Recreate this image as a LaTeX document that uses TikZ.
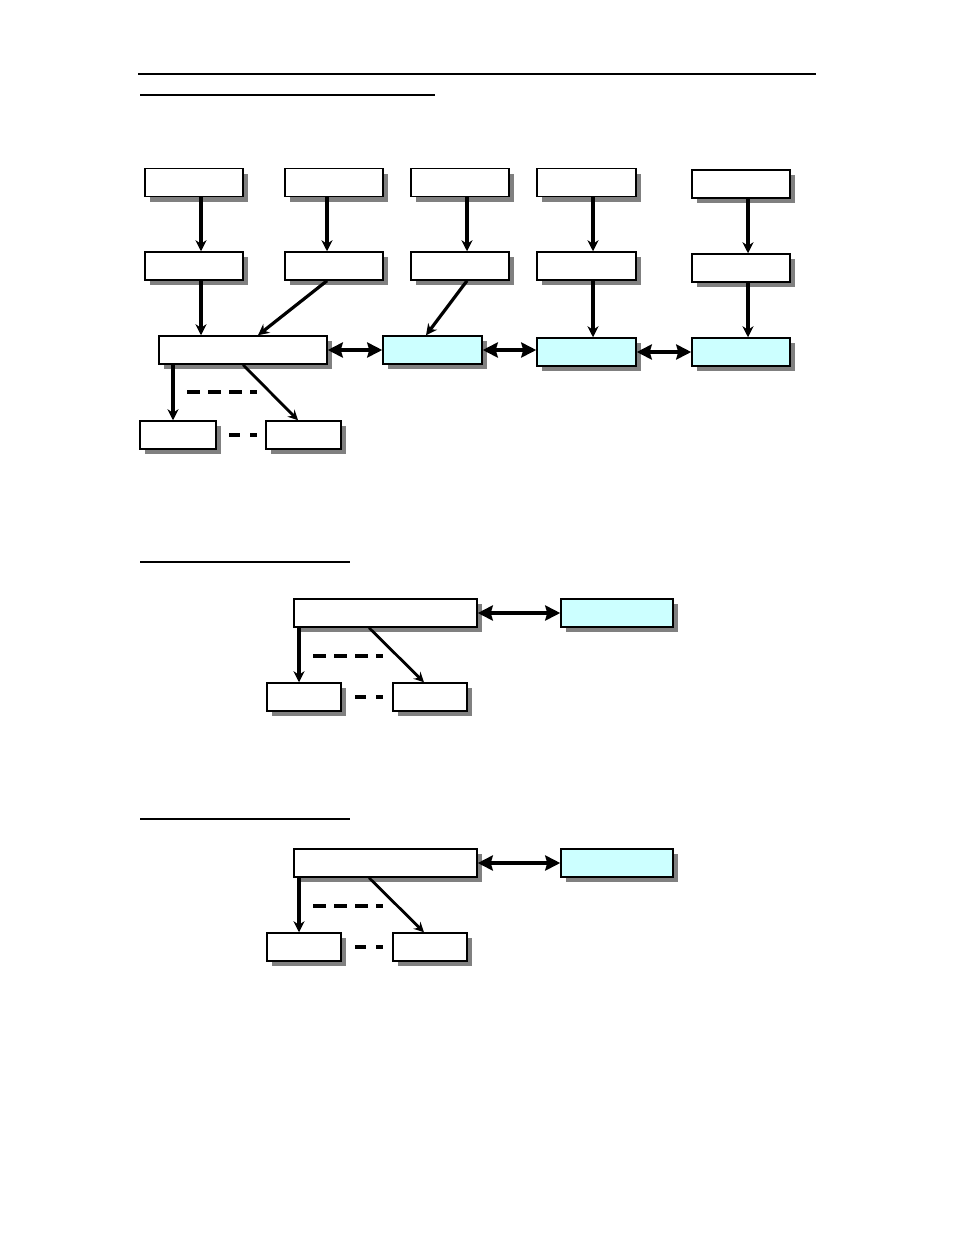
\documentclass[tikz,border=0pt]{standalone}
\usetikzlibrary{arrows.meta,shadows,calc}
\definecolor{lightcyan}{RGB}{204,255,255}
\begin{document}
\begin{tikzpicture}[x=1pt,y=-1pt,
  box/.style={draw, line width=1.5pt, fill=white, inner sep=0pt, minimum height=28pt,
    drop shadow={shadow xshift=5pt, shadow yshift=-5pt, fill=black!50, opacity=1}},
  cbox/.style={box, fill=lightcyan},
  arr/.style={line width=3.2pt, -{Stealth[length=11pt,width=11pt,inset=3.5pt]}},
  darr/.style={line width=3.4pt, {Stealth[length=15pt,width=15pt,inset=2pt]}-{Stealth[length=15pt,width=15pt,inset=2pt]}},
  diag/.style={line width=2.8pt, -{Stealth[length=10pt,width=10pt,inset=3.5pt]}},
  dashline/.style={line width=3.8pt, dash pattern=on 12.5pt off 8.5pt},
  rule/.style={line width=1.4pt}]
\useasboundingbox (0,0) rectangle (954,1235);

% header rules
\coordinate (h1a) at (138,74); \coordinate (h1b) at (816,74);
\draw[rule] (h1a) -- (h1b);
\coordinate (h2a) at (140,95); \coordinate (h2b) at (435,95);
\draw[rule] (h2a) -- (h2b);

% ---------- section 1 ----------
\node[box, minimum width=98pt] (r1a) at (194,182.5) {};
\node[box, minimum width=98pt] (r1b) at (334,182.5) {};
\node[box, minimum width=98pt] (r1c) at (460,182.5) {};
\node[box, minimum width=99pt] (r1d) at (586.5,182.5) {};
\node[box, minimum width=98pt] (r1e) at (741,184) {};

\node[box, minimum width=98pt] (r2a) at (194,266) {};
\node[box, minimum width=98pt] (r2b) at (334,266) {};
\node[box, minimum width=98pt] (r2c) at (460,266) {};
\node[box, minimum width=99pt] (r2d) at (586.5,266) {};
\node[box, minimum width=98pt] (r2e) at (741,268) {};

\node[box, minimum width=168pt] (big) at (243,350) {};
\node[cbox, minimum width=99pt] (c1) at (432.5,350) {};
\node[cbox, minimum width=99pt] (c2) at (586.5,352) {};
\node[cbox, minimum width=98pt] (c3) at (741,352) {};

\node[box, minimum width=76pt] (s1) at (178,435) {};
\node[box, minimum width=75pt] (s2) at (303.5,435) {};

\draw[arr] ([xshift=7pt]r1a.south) -- ([xshift=7pt]r2a.north);
\draw[arr] ([xshift=-7pt]r1b.south) -- ([xshift=-7pt]r2b.north);
\draw[arr] ([xshift=7pt]r1c.south) -- ([xshift=7pt]r2c.north);
\draw[arr] ([xshift=6.5pt]r1d.south) -- ([xshift=6.5pt]r2d.north);
\draw[arr] ([xshift=7pt]r1e.south) -- ([xshift=7pt]r2e.north);

\draw[arr] ([xshift=7pt]r2a.south) -- ([xshift=7pt]r2a.south |- big.north);
\draw[arr] ([xshift=-7pt]r2b.south) -- ([xshift=15pt]big.north);
\draw[arr] ([xshift=7pt]r2c.south) -- ([xshift=-6.5pt]c1.north);
\draw[arr] ([xshift=6.5pt]r2d.south) -- ([xshift=6.5pt]c2.north);
\draw[arr] ([xshift=7pt]r2e.south) -- ([xshift=7pt]c3.north);

\draw[darr] (big.east) -- (c1.west);
\draw[darr] (c1.east) -- (c1.east -| c2.west);
\draw[darr] (c2.east) -- (c3.west);

\draw[arr] ([xshift=-70pt]big.south) -- ([xshift=-70pt]big.south |- s1.north);
\draw[diag] (big.south) -- ([xshift=-5.5pt]s2.north);
\coordinate (d1a) at (187,392); \coordinate (d1b) at (257,392);
\draw[dashline] (d1a) -- (d1b);
\coordinate (d2a) at (229,435); \coordinate (d2b) at (257,435);
\draw[dashline, dash pattern=on 11pt off 10pt] (d2a) -- (d2b);

% ---------- sections 2 and 3 ----------
\coordinate (h3a) at (140,562); \coordinate (h3b) at (350,562);
\draw[rule] (h3a) -- (h3b);
\coordinate (h4a) at (140,819); \coordinate (h4b) at (350,819);
\draw[rule] (h4a) -- (h4b);

\foreach \s/\dy in {2/0,3/250}{
  \node[box, minimum width=183pt] (big\s) at (385.5,613+\dy) {};
  \node[cbox, minimum width=112pt] (cy\s) at (617,613+\dy) {};
  \node[box, minimum width=74pt] (sa\s) at (304,697+\dy) {};
  \node[box, minimum width=74pt] (sb\s) at (430,697+\dy) {};
  \draw[darr] (big\s.east) -- (cy\s.west);
  \draw[arr] ([xshift=-86.5pt]big\s.south) -- ([xshift=-86.5pt]big\s.south |- sa\s.north);
  \draw[diag] ([xshift=-16.5pt]big\s.south) -- ([xshift=-6pt]sb\s.north);
  \coordinate (e\s a) at (313,656+\dy); \coordinate (e\s b) at (383,656+\dy);
  \draw[dashline] (e\s a) -- (e\s b);
  \coordinate (f\s a) at (355,697+\dy); \coordinate (f\s b) at (383,697+\dy);
  \draw[dashline, dash pattern=on 11pt off 10pt] (f\s a) -- (f\s b);
}
\end{tikzpicture}
\end{document}
